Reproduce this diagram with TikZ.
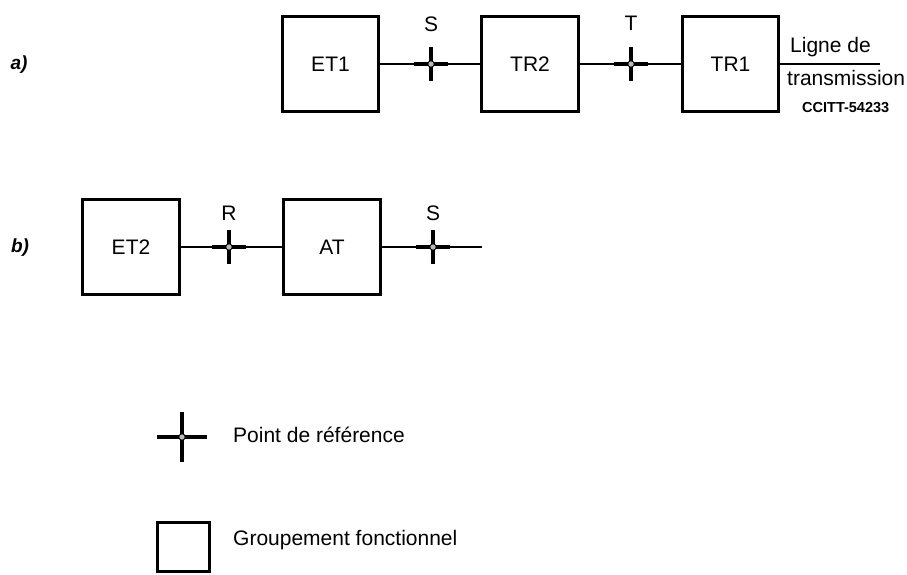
\documentclass[tikz,border=0pt]{standalone}
\usepackage{fontspec}
\setmainfont{Liberation Sans}
\newcommand\refcross[2]{%
  \draw[arm] ([xshift=-#2]#1) -- ([xshift=#2]#1);
  \draw[arm] ([yshift=-#2]#1) -- ([yshift=#2]#1);
  \draw[line width=0.8pt, fill=gray!55] (#1) circle (3.2);
}
\begin{document}
\begin{tikzpicture}[x=1pt,y=-1pt,
  fbox/.style={draw, line width=2.8pt, minimum width=96.5pt, minimum height=95.5pt, inner sep=0pt, font=\fontsize{21}{25}\selectfont},
  lbl/.style={font=\fontsize{21}{25}\selectfont, inner sep=0pt},
  tag/.style={font=\fontsize{19}{23}\selectfont\bfseries\itshape, inner sep=0pt},
  wire/.style={line width=1.9pt},
  arm/.style={line width=3.4pt},
]
\useasboundingbox (0,0) rectangle (907,574);

% ---- a) ----
\node[tag] (ta) at (19,65) {a)};
\node[fbox] (et1) at (330.5,64) {ET1};
\node[fbox] (tr2) at (530,64) {TR2};
\node[fbox] (tr1) at (730.5,64) {TR1};
\coordinate (s1) at (431,64);
\coordinate (t1) at (631,64);
\coordinate (lend) at (880,64);
\draw[wire] (et1.east) -- (s1) -- (tr2.west);
\draw[wire] (tr2.east) -- (t1) -- (tr1.west);
\draw[wire] (tr1.east) -- (lend);
\refcross{s1}{17pt}
\refcross{t1}{17pt}
\node[lbl] (sl1) at (431,24) {S};
\node[lbl] (tl1) at (631,23) {T};
\node[lbl, anchor=west] (ligne) at (790,47) {Ligne de};
\node[lbl, anchor=west] (trans) at (787,78) {transmission};
\node[anchor=west, inner sep=0pt, font=\fontsize{14.5}{16}\selectfont\bfseries] (ccitt) at (802,108) {CCITT-54233};

% ---- b) ----
\node[tag] (tb) at (20,248) {b)};
\node[fbox] (et2) at (131,247) {ET2};
\node[fbox] (atb) at (332,247) {AT};
\coordinate (r2) at (229,247);
\coordinate (s2) at (433,247);
\coordinate (bend) at (482,247);
\draw[wire] (et2.east) -- (r2) -- (atb.west);
\draw[wire] (atb.east) -- (s2) -- (bend);
\refcross{r2}{17pt}
\refcross{s2}{17pt}
\node[lbl] (rl2) at (229,213) {R};
\node[lbl] (sl2) at (433,213) {S};

% ---- legend ----
\coordinate (lc) at (182,437);
\refcross{lc}{25pt}
\node[lbl, anchor=west] (lt1) at (233,435) {Point de référence};
\node[draw, line width=2.8pt, minimum width=52.5pt, minimum height=49.5pt, inner sep=0pt] (lbox) at (183.5,547) {};
\node[lbl, anchor=west] (lt2) at (233,540) {Groupement fonctionnel};
\end{tikzpicture}
\end{document}
